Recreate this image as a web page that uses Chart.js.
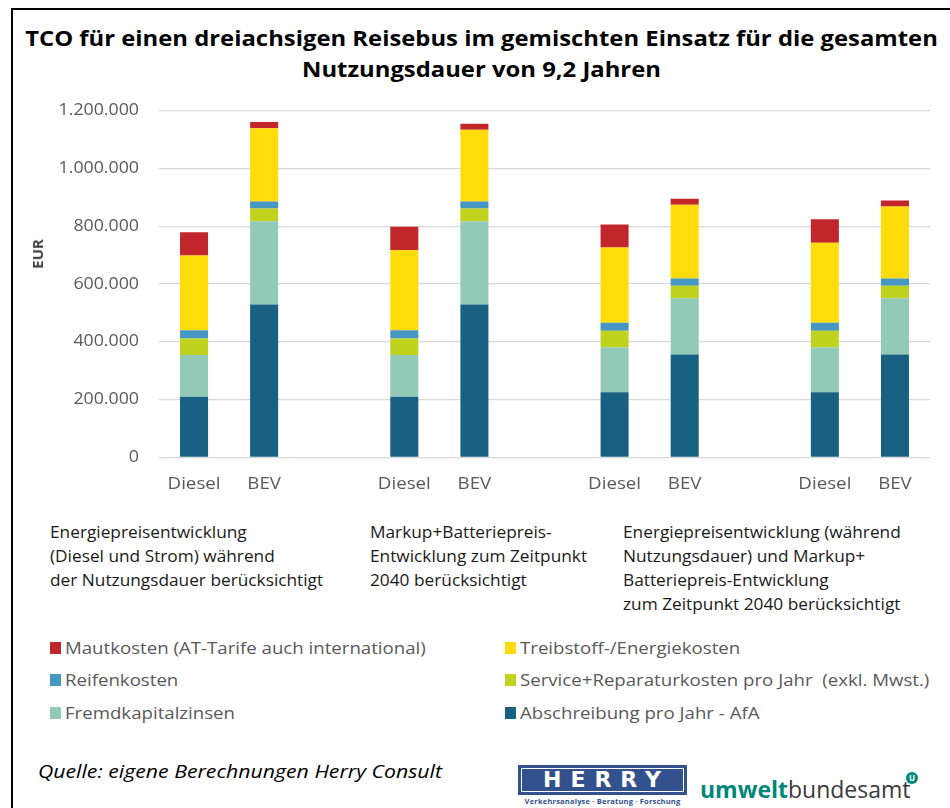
<!DOCTYPE html>
<html>
<head>
<meta charset="utf-8">
<script src="https://cdn.jsdelivr.net/npm/chart.js@4/dist/chart.umd.min.js"></script>
<style>
  html, body { margin:0; padding:0; background:#fff; }
  #wrap { position:relative; width:950px; height:808px; overflow:hidden; font-family:"Open Sans", sans-serif; }
  #frameTop { position:absolute; left:11px; top:8px; width:939px; height:2px; background:#000; }
  #frameLeft { position:absolute; left:11px; top:8px; width:2px; height:800px; background:#000; }
  #title { position:absolute; left:13px; width:937px; top:23px; text-align:center; font-weight:700; font-size:21px; line-height:31px; color:#000; transform:scaleX(1.135); transform-origin:50% 0; }
  #chartBox { position:absolute; left:0; top:0; width:950px; height:500px; }
  #ytitle { position:absolute; left:37px; top:254px; transform:translate(-50%,-50%) rotate(-90deg); font-weight:700; font-size:15px; color:#404040; }
  .note { position:absolute; top:520px; font-size:15.5px; line-height:24px; color:#1a1a1a; white-space:nowrap; transform:scaleX(1.114); transform-origin:0 0; }
  .leg { position:absolute; font-size:16px; color:#595959; white-space:nowrap; line-height:20px; }
  .leg i { position:absolute; left:-15px; top:4px; width:11px; height:12px; }
  .leg span { display:inline-block; transform:scaleX(1.165); transform-origin:0 0; }
  #src { position:absolute; left:38px; top:759px; font-style:italic; font-size:18px; color:#000; white-space:nowrap; transform:scaleX(1.18); transform-origin:0 0; }
  #herry { position:absolute; left:518px; top:765px; width:169px; height:30px; background:#33518c; }
  #herry .inner { position:absolute; left:3px; top:3px; right:3px; bottom:3px; border:1.5px solid #fff; color:#fff; font-family:"DejaVu Sans", sans-serif; font-weight:900; font-size:22px; letter-spacing:9px; text-align:center; line-height:22px; padding-left:8px; box-sizing:border-box; }
  #herrySub { position:absolute; left:518px; top:796px; width:169px; text-align:center; font-size:7.5px; font-weight:700; color:#33518c; white-space:nowrap; letter-spacing:0.2px; }
  #uba { position:absolute; left:700px; top:775px; font-size:23px; line-height:28px; color:#3a3a3a; white-space:nowrap; }
  #uba b { color:#00877a; font-weight:700; }
  #ubaDot { position:absolute; left:906px; top:772px; width:12px; height:12px; border-radius:50%; background:#00877a; color:#fff; font-size:8px; font-weight:700; text-align:center; line-height:12px; }
</style>
</head>
<body>
<div id="wrap">
  <div id="frameTop"></div>
  <div id="frameLeft"></div>
  <div id="title">TCO für einen dreiachsigen Reisebus im gemischten Einsatz für die gesamten<br>Nutzungsdauer von 9,2 Jahren</div>
  <div id="chartBox"><canvas id="c" width="950" height="500"></canvas></div>
  <div id="ytitle">EUR</div>

  <div class="note" style="left:50px;">Energiepreisentwicklung<br>(Diesel und Strom) während<br>der Nutzungsdauer berücksichtigt</div>
  <div class="note" style="left:370px;">Markup+Batteriepreis-<br>Entwicklung zum Zeitpunkt<br>2040 berücksichtigt</div>
  <div class="note" style="left:623px;">Energiepreisentwicklung (während<br>Nutzungsdauer) und Markup+<br>Batteriepreis-Entwicklung<br>zum Zeitpunkt 2040 berücksichtigt</div>

  <div id="legend"></div>

  <div id="src">Quelle: eigene Berechnungen Herry Consult</div>
  <div id="herry"><div class="inner">HERRY</div></div>
  <div id="herrySub">Verkehrsanalyse · Beratung · Forschung</div>
  <div id="uba"><b>umwelt</b>bundesamt</div>
  <div id="ubaDot">U</div>
</div>
<script>
// ---- Data (EUR) ----
const categories = ['Diesel','BEV','Diesel','BEV','Diesel','BEV','Diesel','BEV'];
const abschreibung = [210000, 529000, 210000, 529000, 225000, 356000, 225000, 356000];
const fremdkapital = [144000, 288000, 144000, 288000, 156000, 195000, 156000, 195000];
const service      = [ 57000,  44000,  57000,  44000,  57000,  43000,  57000,  43000];
const reifen       = [ 29000,  25000,  29000,  25000,  28000,  25000,  28000,  25000];
const treibstoff   = [259000, 253000, 277000, 248000, 260000, 255000, 277000, 249000];
const maut         = [ 80000,  22000,  81000,  21000,  80000,  21000,  81000,  21000];
const yTicks = [0, 200000, 400000, 600000, 800000, 1000000, 1200000];

const seriesNames = [
  'Abschreibung pro Jahr - AfA',
  'Fremdkapitalzinsen',
  'Service+Reparaturkosten pro Jahr  (exkl. Mwst.)',
  'Reifenkosten',
  'Treibstoff-/Energiekosten',
  'Mautkosten (AT-Tarife auch international)'
];
const seriesColors = ['#186183', '#93c9b7', '#bed21e', '#4596c0', '#ffdc0a', '#c1262a'];
const seriesData = [abschreibung, fremdkapital, service, reifen, treibstoff, maut];

// insert an empty slot between each Diesel/BEV pair
function withGaps(arr, gapVal) {
  const out = [];
  arr.forEach((v, i) => { if (i > 0 && i % 2 === 0) out.push(gapVal); out.push(v); });
  return out;
}
const labels = withGaps(categories, '');

function fmt(v) { return String(v).replace(/\B(?=(\d{3})+(?!\d))/g, '.'); }

const datasets = seriesNames.map((n, i) => ({
  label: n,
  data: withGaps(seriesData[i], null),
  backgroundColor: seriesColors[i],
  borderWidth: 0,
  barPercentage: 0.4,
  categoryPercentage: 1.0,
  stack: 's'
}));

function drawStretched(ctx, text, x, y, align, sx) {
  ctx.save();
  ctx.translate(x, y);
  ctx.scale(sx, 1);
  ctx.textAlign = align;
  ctx.fillText(text, 0, 0);
  ctx.restore();
}

// tick labels drawn from the scales, slightly widened like the reference
const stretchedTicks = {
  id: 'stretchedTicks',
  afterDraw(chart) {
    const ctx = chart.ctx, xs = chart.scales.x, ys = chart.scales.y;
    ctx.save();
    ctx.fillStyle = '#595959';
    ctx.font = '16px "Open Sans"';
    ctx.textBaseline = 'middle';
    xs.ticks.forEach((t, i) => {
      const lbl = labels[i];
      if (!lbl) return;
      drawStretched(ctx, lbl, xs.getPixelForTick(i), xs.top + 27, 'center', 1.17);
    });
    ys.ticks.forEach((t) => {
      drawStretched(ctx, fmt(t.value), ys.right - 20, ys.getPixelForValue(t.value), 'right', 1.11);
    });
    ctx.restore();
  }
};

new Chart(document.getElementById('c'), {
  type: 'bar',
  data: { labels, datasets },
  plugins: [stretchedTicks],
  options: {
    responsive: false,
    animation: false,
    layout: { padding: { top: 110.7, right: 20, left: 0, bottom: 0 } },
    plugins: { legend: { display: false }, tooltip: { enabled: false } },
    scales: {
      x: {
        stacked: true,
        grid: { display: false, drawTicks: false },
        border: { display: false },
        ticks: { display: false, autoSkip: false },
        afterFit: (s) => { s.height = 500 - 457.3; }
      },
      y: {
        stacked: true,
        min: 0, max: 1200000,
        afterBuildTicks: (s) => { s.ticks = yTicks.map(v => ({ value: v })); },
        grid: { color: '#d9d9d9', lineWidth: 1.3, drawTicks: false },
        border: { display: false },
        ticks: { display: false },
        afterFit: (s) => { s.width = 159; }
      }
    }
  }
});

// HTML legend in two columns (order as in the reference)
const legendOrder = [
  [5, 50, 648], [4, 505, 648],
  [3, 50, 680], [2, 505, 680],
  [1, 50, 713], [0, 505, 713]
];
const lg = document.getElementById('legend');
legendOrder.forEach(([idx, x, y]) => {
  const d = document.createElement('div');
  d.className = 'leg';
  d.style.left = (x + 15) + 'px';
  d.style.top = (y - 10) + 'px';
  d.innerHTML = '<i style="background:' + seriesColors[idx] + '"></i><span>' + seriesNames[idx].replace(/  /g, '&nbsp; ') + '</span>';
  lg.appendChild(d);
});
</script>
</body>
</html>
